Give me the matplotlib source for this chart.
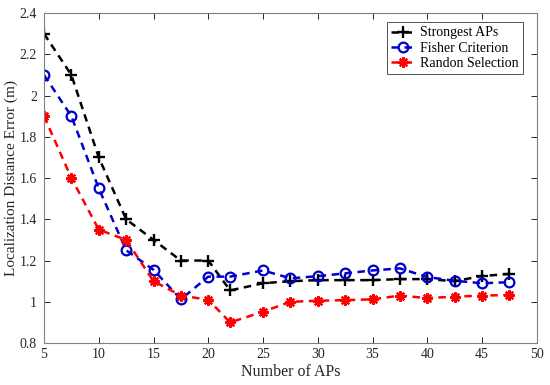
import matplotlib
matplotlib.use('Agg')
import matplotlib.pyplot as plt

# number of APs
aps = [5, 7.5, 10, 12.5, 15, 17.5, 20, 22, 25, 27.5, 30, 32.5, 35, 37.5, 40, 42.5, 45, 47.5]
strongest = [2.3, 2.1, 1.7, 1.4, 1.3, 1.2, 1.2, 1.055, 1.09, 1.1, 1.105, 1.105, 1.105, 1.11, 1.11, 1.1, 1.125, 1.135]
fisher = [2.1, 1.9, 1.55, 1.25, 1.155, 1.012, 1.122, 1.122, 1.152, 1.114, 1.124, 1.138, 1.152, 1.162, 1.12, 1.102, 1.09, 1.095]
randon = [1.9, 1.6, 1.35, 1.3, 1.1, 1.03, 1.01, 0.9, 0.952, 1.0, 1.005, 1.008, 1.012, 1.03, 1.018, 1.025, 1.03, 1.033]

plt.rcParams['font.family'] = ['Liberation Serif', 'DejaVu Serif']

fig = plt.figure(figsize=(5.5, 3.85), dpi=100)
ax = fig.add_axes([0.08, 0.109, 0.896, 0.857])

ax.plot(aps, strongest, '--', color='black', lw=1.8, marker='+', ms=9, mew=1.7,
        label='Strongest APs', dashes=(3, 2.2))
ax.plot(aps, fisher, '--', color='#0000cc', lw=1.8, marker='o', ms=7, mew=1.6,
        mfc='none', label='Fisher Criterion', dashes=(3, 2.2))
ax.plot(aps, randon, '--', color='#ff0000', lw=1.8, marker=(8, 2, 0), ms=7.5, mew=1.6,
        label='Randon Selection', dashes=(3, 2.2))

ax.set_xlim(5, 50)
ax.set_ylim(0.8, 2.4)
ax.set_xticks(range(5, 51, 5))
ax.set_yticks([0.8, 1, 1.2, 1.4, 1.6, 1.8, 2, 2.2, 2.4])
ax.set_yticklabels(['0.8', '1', '1.2', '1.4', '1.6', '1.8', '2', '2.2', '2.4'])
ax.tick_params(direction='in', top=True, right=True, length=4, width=0.7,
               colors='#262626', labelsize=10, labelcolor='#262626')
ax.tick_params(axis='y', pad=5)
for s in ax.spines.values():
    s.set_color('#808080')
    s.set_linewidth(0.8)

ax.set_xlabel('Number of APs', fontsize=11.5, color='#262626', labelpad=2)
ax.set_ylabel('Localization Distance Error (m)', fontsize=11, color='#262626', labelpad=1)

leg = ax.legend(loc='upper right', fontsize=10, frameon=True, fancybox=False,
                edgecolor='#262626', handlelength=1.7, handletextpad=0.4,
                borderpad=0.3, labelspacing=0.15, borderaxespad=0,
                bbox_to_anchor=(0.972, 0.972))
leg.get_frame().set_linewidth(0.7)

fig.savefig('out.png', dpi=100)
